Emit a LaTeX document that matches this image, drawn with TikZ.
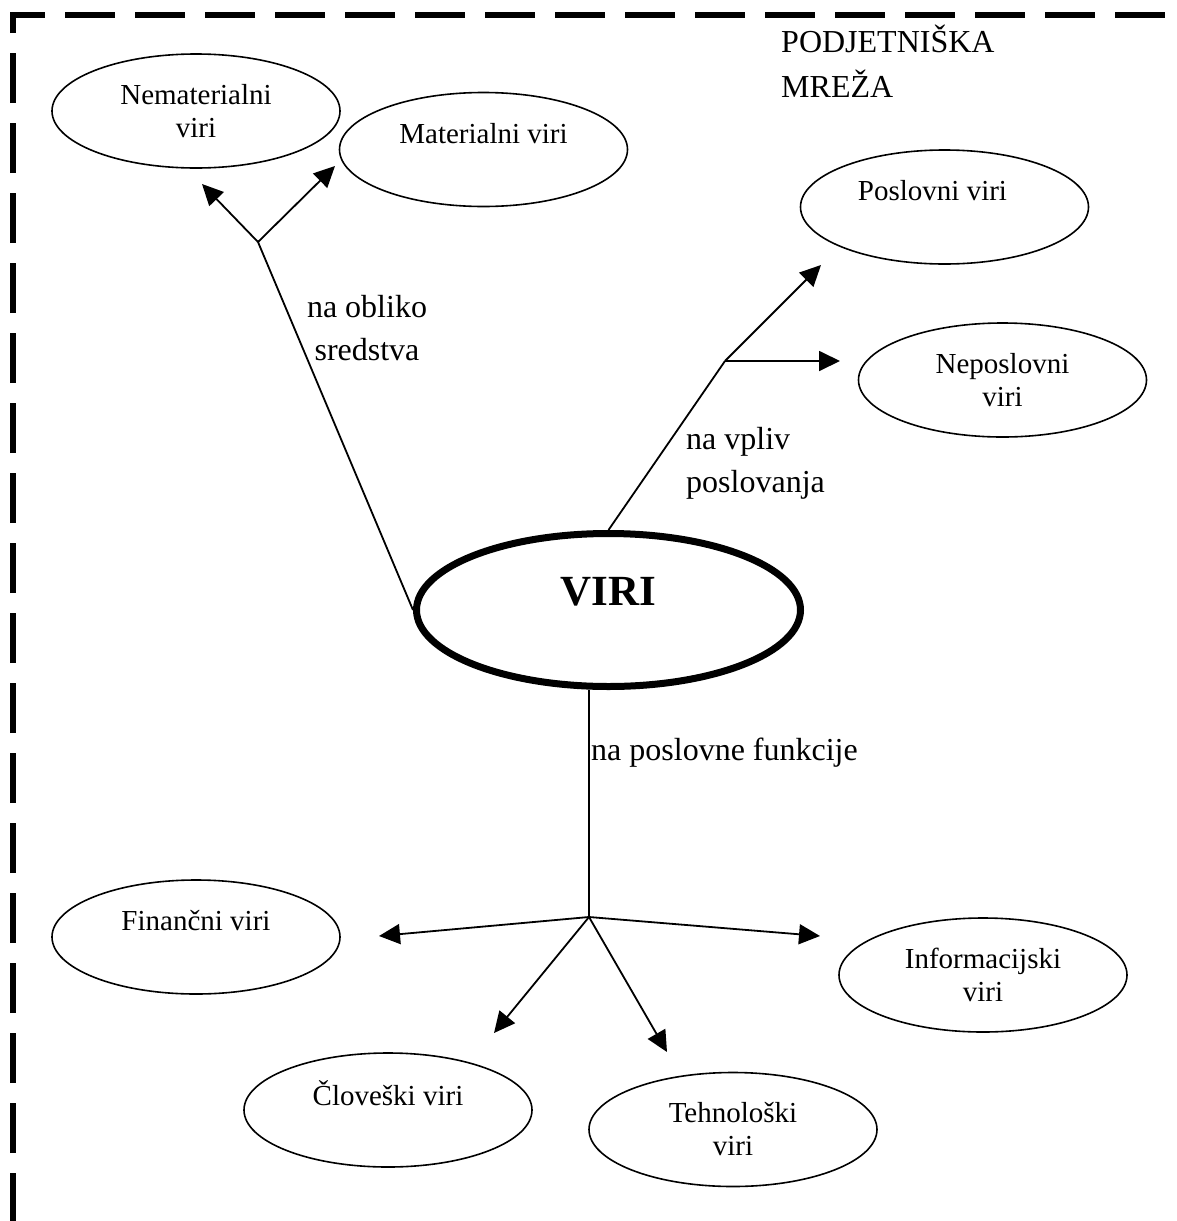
\documentclass[tikz,border=0pt]{standalone}
\usepackage{fontspec}
\setmainfont{Liberation Serif}
\usetikzlibrary{arrows.meta,shapes.geometric}
\begin{document}
\begin{tikzpicture}[x=1pt,y=-1pt,
  res/.style={ellipse, draw, line width=1.6pt, minimum width=288pt,
    minimum height=114pt, inner sep=0pt, align=center,
    font=\fontsize{29}{33}\selectfont},
  link/.style={line width=1.8pt},
  branch/.style={line width=1.8pt, -{Triangle[length=21pt,width=20pt]}},
  lbl/.style={font=\fontsize{32}{43}\selectfont, inner sep=0pt}]
\useasboundingbox (0,0) rectangle (1177,1221);
\clip (0,0) rectangle (1177,1221);

% dashed frame of the network (multi-line labels are placed by their last baseline)
\draw[line width=6pt, dash pattern=on 50pt off 20pt, dash phase=68pt,
      line cap=butt, line join=miter] (13,1225) -- (13,15) -- (1190,15);
\node[lbl, align=left, anchor=base west, font=\fontsize{32}{45}\selectfont]
  (net) at (781,97) {PODJETNIŠKA\\MREŽA};

% central node
\node[res, line width=7pt, minimum width=384pt, minimum height=153pt,
      font=\fontsize{43}{38}\selectfont\bfseries] (viri) at (608.5,610) {VIRI\\\mbox{}};

% resource nodes
\node[res] (nemat)  at (196,111)    {Nematerialni\\viri};
\node[res] (mat)    at (483.5,149.5) {Materialni viri\\\mbox{}};
\node[res] (posl)   at (944.5,207)  {Poslovni viri\hspace*{24pt}\\\mbox{}};
\node[res] (neposl) at (1002.5,380) {Neposlovni\\viri};
\node[res] (finan)  at (196,937)    {Finančni viri\\\mbox{}};
\node[res] (clov)   at (388,1110)   {Človeški viri\\\mbox{}};
\node[res] (tehn)   at (733,1129.5) {Tehnološki\\viri};
\node[res] (inform) at (983,975)    {Informacijski\\viri};

% branch points and arrow ends
\coordinate (jl) at (258,242);
\coordinate (jr) at (725,361);
\coordinate (jb) at (589,917);
\coordinate (tnemat)  at (202,184);
\coordinate (tmat)    at (335,166);
\coordinate (tposl)   at (821,265);
\coordinate (tneposl) at (840,361);
\coordinate (tfinan)  at (379,936);
\coordinate (tclov)   at (494,1033);
\coordinate (ttehn)   at (667,1052);
\coordinate (tinform) at (820,936);

% classification by form of assets
\draw[link] (viri.west) -- (jl);
\draw[branch] (jl) -- (tnemat);
\draw[branch] (jl) -- (tmat);
\node[lbl, align=center, anchor=base] (lform) at (367,360) {na obliko\\sredstva};

% classification by influence on business
\draw[link] (viri.north) -- (jr);
\draw[branch] (jr) -- (tposl);
\draw[branch] (jr) -- (tneposl);
\node[lbl, align=left, anchor=base west] (lvpliv) at (686,492) {na vpliv\\poslovanja};

% classification by business functions
\draw[link] (viri.south -| jb) -- (jb);
\draw[branch] (jb) -- (tfinan);
\draw[branch] (jb) -- (tclov);
\draw[branch] (jb) -- (ttehn);
\draw[branch] (jb) -- (tinform);
\node[lbl, anchor=base west] (lfunk) at (591,760) {na poslovne funkcije};
\end{tikzpicture}
\end{document}
